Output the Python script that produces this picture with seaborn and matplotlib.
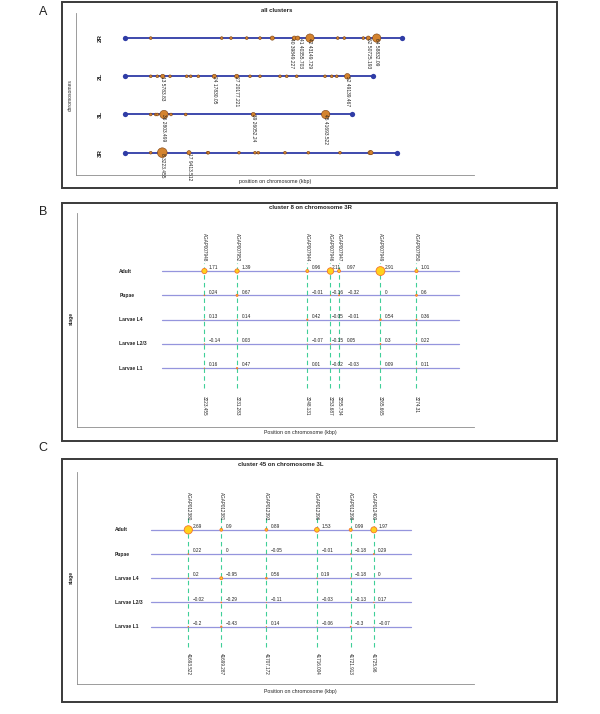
import pandas as pd
import seaborn as sns
import matplotlib.pyplot as plt
from matplotlib.patches import Rectangle

W, H = 600, 714

# ---------------- panel A: all clusters on the four arms ----------------
chromosomes = ["2R", "2L", "3L", "3R"]
chrom_start = -6000
chrom_end = [58500, 51900, 46850, 57350]

pos_2R = [0, 16550, 18720, 22380, 25480, 28350, 33470, 34270, 37130,
          43590, 45130, 49560, 50720, 52680]
genes_2R = [2, 2, 2, 2, 2, 3, 3, 3, 6, 2, 2, 2, 3, 6]
pos_2L = [0, 1540, 2800, 4500, 8390, 9320, 11100, 14830, 20050, 23150,
          25480, 30140, 31700, 34030, 40630, 42190, 43360, 45830]
genes_2L = [2, 2, 3, 2, 2, 2, 2, 3, 3, 2, 2, 2, 2, 2, 2, 2, 2, 4]
pos_3L = [0, 1170, 1540, 3100, 4730, 8160, 23920, 40790]
genes_3L = [2, 2, 2, 6, 2, 2, 3, 6]
pos_3R = [0, 2700, 8930, 13290, 13430, 20580, 24310, 25080, 31300,
          36740, 44120, 51120, 51350]
genes_3R = [2, 7, 3, 2, 2, 2, 2, 2, 2, 2, 2, 3, 3]

label_chrom = ["2R", "2R", "2R", "2R", "2R", "2L", "2L", "2L", "2L",
               "3L", "3L", "3L", "3R", "3R"]
label_pos = [33470, 34270, 37130, 50720, 52680, 2800, 14830, 20050, 45830,
             3100, 23920, 40790, 2700, 8930]
label_text = ["40 39849.227", "41 40355.703", "42 43149.729", "62 50725.193",
              "64 58832.09", "13 5783.83", "24 17830.05", "27 20177.221",
              "52 49139.467", "36 2803.499", "39 26052.24", "45 41693.522",
              "8 3223.455", "17 9413.512"]

# ---------------- panels B and C: expression per stage ----------------
stages = ["Adult", "Pupae", "Larvae L4", "Larvae L2/3", "Larvae L1"]

b_genes = ["AGAP007948", "AGAP007952", "AGAP007944", "AGAP007946",
           "AGAP007947", "AGAP007949", "AGAP007950"]
b_pos = [3223.455, 3231.283, 3248.131, 3253.687, 3255.734, 3265.665, 3274.31]
b_adult = [1.71, 1.39, 0.96, 2.11, 0.97, 2.91, 1.01]
b_pupae = [0.24, 0.67, -0.01, -0.16, -0.32, 0, 0.6]
b_l4 = [0.13, 0.14, 0.42, -0.05, -0.01, 0.54, 0.36]
b_l23 = [-0.14, 0.03, -0.07, -0.15, 0.05, 0.3, 0.22]
b_l1 = [0.16, 0.47, 0.01, -0.02, -0.03, 0.09, 0.11]

c_genes = ["AGAP012380", "AGAP012381", "AGAP012393", "AGAP012396",
           "AGAP012398", "AGAP012400"]
c_pos = [41693.522, 41699.287, 41707.172, 41716.004, 41721.913, 41725.96]
c_adult = [2.69, 0.9, 0.89, 1.53, 0.99, 1.97]
c_pupae = [0.22, 0, -0.05, -0.01, -0.18, 0.29]
c_l4 = [0.2, -0.95, 0.56, 0.19, -0.18, 0]
c_l23 = [-0.02, -0.29, -0.11, -0.03, -0.13, 0.17]
c_l1 = [-0.2, -0.43, 0.14, -0.06, -0.3, -0.07]

BLUE = "#2f3ca6"
ORANGE = "#d4842f"
ROW = "#9595dd"
DASH = "#3fcf98"
GOLD = "#ffd21c"
EDGE = "#f5742a"
AXC = "#8c8c8c"
TXT = "#222222"


def px_axes(fig, x0, y0, x1, y1):
    return fig.add_axes([x0 / W, 1 - y1 / H, (x1 - x0) / W, (y1 - y0) / H])


def px_text(fig, x, y, s, **kw):
    fig.text(x / W, 1 - y / H, s, color=TXT, **kw)


def style_axes(ax):
    for side in ["top", "right"]:
        ax.spines[side].set_visible(False)
    for side in ["left", "bottom"]:
        ax.spines[side].set_color(AXC)
        ax.spines[side].set_linewidth(0.6)
    ax.tick_params(direction="in", length=3, width=0.5, color=AXC,
                   labelbottom=False, labelleft=False)
    ax.set_xlabel("")
    ax.set_ylabel("")
    ax.patch.set_alpha(0)


def fmt(v):
    s = f"{v:g}"
    if s in ("-0", "0"):
        return "0"
    return s.replace("-", "\u2212")


def overview_panel(ax):
    pos = {"2R": pos_2R, "2L": pos_2L, "3L": pos_3L, "3R": pos_3R}
    genes = {"2R": genes_2R, "2L": genes_2L, "3L": genes_3L, "3R": genes_3R}
    n = len(chromosomes)
    rows = []
    for i, name in enumerate(chromosomes):
        yv = n - i
        sns.lineplot(x=[chrom_start, chrom_end[i]], y=[yv, yv], color=BLUE,
                     lw=1.3, marker="o", markersize=3.8, markeredgewidth=0,
                     ax=ax)
        for p, g in zip(pos[name], genes[name]):
            rows.append({"chrom": name, "y": yv, "pos": p, "area": g ** 2})
        ax.text(0.06, yv, name, transform=ax.get_yaxis_transform(),
                rotation=90, ha="center", va="center", fontsize=4.5,
                fontweight="bold", color=TXT)
    df = pd.DataFrame(rows)
    sns.scatterplot(data=df, x="pos", y="y", size="area", sizes=(4, 49),
                    size_norm=(4, 49), color=ORANGE, edgecolor="#7a3f10",
                    linewidth=0.4, legend=False, zorder=3, ax=ax)

    # labels of clusters that sit right next to each other are split apart
    ha = ["center"] * len(label_pos)
    for k in range(1, len(label_pos)):
        same = label_chrom[k] == label_chrom[k - 1]
        if same and abs(label_pos[k] - label_pos[k - 1]) < 1500:
            ha[k - 1], ha[k] = "right", "left"
    for c, p, t, h in zip(label_chrom, label_pos, label_text, ha):
        yv = n - chromosomes.index(c)
        ax.text(p, yv, t, rotation=-90, ha=h, va="top",
                fontsize=3.5, color=TXT, zorder=4)
    ax.set_xlim(-17413, 75363)
    ax.set_ylim(0.416, 4.657)
    ax.set_xticks(range(-10000, 80000, 10000))
    ax.set_yticks([1 + 0.68 * k for k in range(6)])
    style_axes(ax)


def cluster_panel(ax, genes, pos, expr, lay):
    n = len(stages)
    lo, hi = min(pos), max(pos)
    pad = 0.2 * (hi - lo)
    rows = []
    for i, s in enumerate(stages):
        yv = n - 1 - i
        sns.lineplot(x=[lo - pad, hi + pad], y=[yv, yv], color=ROW, lw=0.9,
                     ax=ax)
        ax.text(lay["row_lab"], yv, s, transform=ax.get_yaxis_transform(),
                ha="left", va="center", fontsize=3.6, fontweight="bold",
                color=TXT)
        for j, (p, v) in enumerate(zip(pos, expr[i])):
            rows.append({"stage": s, "y": yv, "pos": p,
                         "area": (2.2 * abs(v)) ** 2})
            ax.annotate(fmt(v), (p, yv), xytext=(lay["val_dx"][j], 0.6),
                        textcoords="offset points", ha="left", va="bottom",
                        fontsize=3.4, color=TXT)
    ax.vlines(pos, lay["dash"][1], lay["dash"][0], colors=DASH, lw=0.8,
              linestyles=(0, (4, 3)), zorder=2)
    df = pd.DataFrame(rows)
    sns.scatterplot(data=df, x="pos", y="y", size="area", sizes=(0, 60),
                    size_norm=(0, 60), color=GOLD, edgecolor=EDGE,
                    linewidth=0.6, legend=False, zorder=3, ax=ax)
    for g, p in zip(genes, pos):
        ax.text(p, lay["gene_top"], g, rotation=-90, ha="center", va="top",
                fontsize=3.3, color=TXT)
        ax.text(p, lay["pos_top"], str(p), rotation=-90, ha="center",
                va="top", fontsize=3.3, color=TXT)
    ax.set_xlim(*lay["xlim"])
    ax.set_ylim(*lay["ylim"])
    ax.set_xticks(lay["xticks"])
    ax.set_yticks(lay["yticks"])
    style_axes(ax)


def main():
    sns.set_theme(style="white")
    plt.rcParams["font.family"] = ["Liberation Sans", "DejaVu Sans"]

    fig = plt.figure(figsize=(W / 100, H / 100), dpi=100)

    # frames around the three panels
    for y0, y1 in [(2, 188), (203, 441), (459, 702)]:
        fig.patches.append(Rectangle((62 / W, 1 - y1 / H), 495 / W,
                                     (y1 - y0) / H, transform=fig.transFigure,
                                     fill=False, lw=1.4, ec="#3a3a3a"))
    for letter, y in [("A", 12), ("B", 212), ("C", 448)]:
        px_text(fig, 43, y, letter, fontsize=9, ha="center", va="center")

    # A
    ax_a = px_axes(fig, 76, 13, 474, 175)
    overview_panel(ax_a)
    px_text(fig, 277, 10, "all clusters", fontsize=4.3, fontweight="bold",
            ha="center", va="center")
    px_text(fig, 70, 95, "chromosomes", fontsize=3.6, rotation=90,
            ha="center", va="center")
    px_text(fig, 275, 182, "position on chromosome (kbp)", fontsize=3.8,
            ha="center", va="center")

    # B
    ax_b = px_axes(fig, 77, 213, 474, 427)
    cluster_panel(ax_b, b_genes, b_pos,
                  [b_adult, b_pupae, b_l4, b_l23, b_l1],
                  {"xlim": (3192.9, 3288.1), "ylim": (-2.42, 6.39),
                   "xticks": range(3200, 3290, 10),
                   "yticks": [-1.4 + 1.4 * k for k in range(6)],
                   "row_lab": 0.1066, "gene_top": 5.56,
                   "dash": (4.33, -0.81), "pos_top": -1.14,
                   "val_dx": [3.2, 3.2, 3.2, 1.0, 6.0, 3.2, 3.2]})
    px_text(fig, 310, 207, "cluster 8 on chromosome 3R", fontsize=4.3,
            fontweight="bold", ha="center", va="center")
    px_text(fig, 71.5, 318, "stage", fontsize=3.6, fontweight="bold",
            rotation=90, ha="center", va="center")
    px_text(fig, 300, 433, "Position on chromosome (kbp)", fontsize=3.8,
            ha="center", va="center")

    # C
    ax_c = px_axes(fig, 77, 472, 474, 684)
    cluster_panel(ax_c, c_genes, c_pos,
                  [c_adult, c_pupae, c_l4, c_l23, c_l1],
                  {"xlim": (41674.06, 41743.47), "ylim": (-2.37, 6.39),
                   "xticks": range(41680, 41750, 10),
                   "yticks": [-1.1 + 1.1 * k for k in range(7)],
                   "row_lab": 0.0957, "gene_top": 5.58,
                   "dash": (4.57, -0.84), "pos_top": -1.1,
                   "val_dx": [3.2] * 6})
    px_text(fig, 281, 465, "cluster 45 on chromosome 3L", fontsize=4.3,
            fontweight="bold", ha="center", va="center")
    px_text(fig, 71.5, 577, "stage", fontsize=3.6, fontweight="bold",
            rotation=90, ha="center", va="center")
    px_text(fig, 300, 691, "Position on chromosome (kbp)", fontsize=3.8,
            ha="center", va="center")

    fig.savefig("out.png", dpi=100, facecolor="white")


if __name__ == "__main__":
    main()
